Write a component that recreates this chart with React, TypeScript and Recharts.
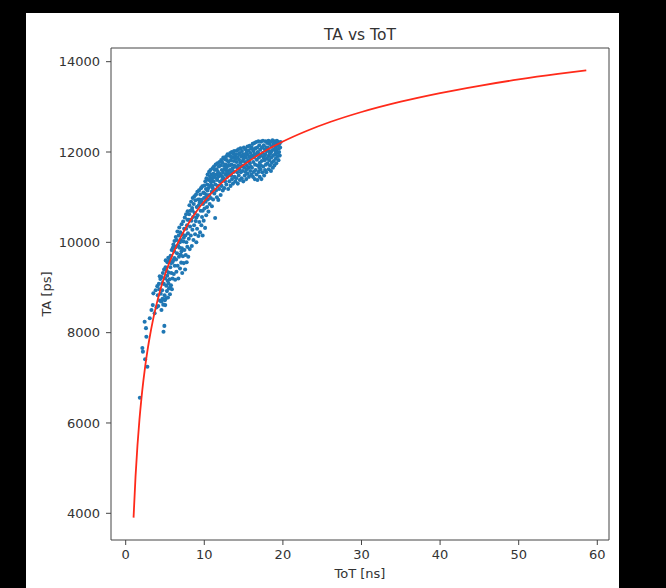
import { ComposedChart, Scatter, Line, XAxis, YAxis, ZAxis } from 'recharts'

// fitted calibration curve
const fitTot = [1, 1.25, 1.5, 1.75, 2, 2.25, 2.5, 2.75, 3, 3.5, 4, 4.5, 5, 6, 7, 8, 9, 10, 12, 14, 16, 18, 20, 23, 26, 30, 35, 40, 45, 50, 55, 58.6]
const fitTa = [3904, 4813, 5512, 6074, 6540, 6936, 7281, 7581, 7848, 8305, 8682, 9004, 9284, 9744, 10115, 10423, 10684, 10910, 11285, 11586, 11836, 12048, 12232, 12466, 12664, 12886, 13115, 13306, 13466, 13607, 13729, 13808]

// measured hits [ToT ns, TA ps]
const hits: [number, number][] = [
  [1.80, 6560], [2.12, 7660], [2.19, 7580], [2.41, 8240], [2.47, 7410], [2.58, 8100], [2.63, 7910], [2.76, 7245],
  [3.06, 8320], [3.28, 8500], [3.45, 8610], [3.68, 8430], [3.52, 8870], [3.81, 8940], [3.93, 8560], [4.02, 9030],
  [4.55, 8500], [4.81, 8020], [4.92, 8150], [5.03, 8610],
  [4.08, 8830], [4.14, 8590], [4.22, 9080], [4.27, 8960], [4.35, 8710], [4.41, 9190], [4.46, 8860], [4.53, 8690],
  [4.58, 9230], [4.64, 8940], [4.69, 8750], [4.73, 9320], [4.78, 8620], [4.86, 9080], [4.88, 9400], [4.95, 8830],
  [5.02, 9200], [5.07, 9450], [5.12, 8760], [5.16, 9040], [5.21, 9370], [5.25, 8920], [5.31, 9560], [5.34, 9150],
  [5.38, 8780], [5.42, 9660], [5.47, 9330], [5.51, 8980], [5.55, 9610], [5.59, 9180], [5.63, 8850], [5.68, 9450],
  [5.72, 9700], [5.76, 9050], [5.81, 9320], [5.85, 9830], [5.88, 8960], [5.93, 9560], [5.97, 9200], [6.00, 9880],
  [4.33, 9250], [4.67, 9100], [5.09, 9600], [5.44, 9090], [5.79, 9540], [4.98, 8720], [5.66, 9000], [5.28, 9260],
  [6.04, 9600], [6.07, 9950], [6.12, 9300], [6.16, 9800], [6.21, 10030], [6.24, 9480], [6.29, 9170], [6.33, 9890],
  [6.37, 10120], [6.41, 9620], [6.45, 9350], [6.49, 10050], [6.53, 9760], [6.58, 10240], [6.61, 9480], [6.66, 9930],
  [6.70, 9200], [6.74, 10150], [6.78, 9680], [6.82, 10330], [6.86, 9880], [6.91, 9420], [6.95, 10220], [6.98, 9730],
  [7.02, 10050], [7.06, 9550], [7.11, 10400], [7.15, 9870], [7.19, 9320], [7.23, 10180], [7.27, 9690], [7.31, 10460],
  [7.35, 10020], [7.39, 9540], [7.43, 10300], [7.47, 9830], [7.52, 10550], [7.56, 9400], [7.60, 10150], [7.64, 9720],
  [7.68, 10620], [7.72, 10000], [7.76, 9560], [7.80, 10380], [7.84, 9900], [7.88, 10690], [7.92, 10200], [7.96, 9680],
  [8.00, 10500], [6.40, 9900], [6.90, 10000], [7.40, 10100], [7.70, 10300], [6.20, 9650], [7.10, 9800], [7.85, 10500],
  [8.03, 10080], [8.07, 10620], [8.11, 10820], [8.15, 9850], [8.19, 10350], [8.24, 10700], [8.28, 10150], [8.32, 10900],
  [8.36, 10480], [8.41, 9920], [8.45, 10760], [8.49, 10280], [8.53, 10980], [8.57, 10560], [8.62, 10050], [8.66, 10850],
  [8.70, 10380], [8.74, 11020], [8.78, 10650], [8.83, 10180], [8.87, 10930], [8.91, 10470], [8.95, 11060], [8.99, 10000],
  [9.04, 10780], [9.08, 10300], [9.12, 11120], [9.16, 10600], [9.21, 10950], [9.25, 10140], [9.29, 10820], [9.33, 11150],
  [9.37, 10450], [9.42, 10880], [9.46, 10220], [9.50, 11060], [9.54, 10700], [9.58, 11200], [9.63, 10380], [9.67, 10940],
  [9.71, 10560], [9.75, 11240], [9.79, 10150], [9.84, 10850], [9.88, 11100], [9.92, 10480], [9.96, 10980], [10.00, 11260],
  [8.50, 10700], [9.00, 10550], [9.40, 10950], [9.80, 10700], [8.20, 10500], [9.60, 10900],
  [10.03, 10750], [10.06, 11080], [10.10, 10320], [10.13, 11350], [10.17, 10900], [10.21, 11180], [10.24, 10600], [10.28, 11420],
  [10.31, 11050], [10.35, 10780], [10.39, 11280], [10.42, 11500], [10.46, 10950], [10.50, 11200], [10.53, 10680], [10.57, 11380],
  [10.61, 11560], [10.64, 11050], [10.68, 10850], [10.72, 11450], [10.75, 11250], [10.79, 11600], [10.83, 10980], [10.86, 11330],
  [10.90, 11500], [10.94, 11120], [10.97, 10800], [11.01, 11420], [11.05, 11640], [11.08, 11200], [11.12, 10950], [11.16, 11520],
  [11.19, 11350], [11.23, 11680], [11.27, 11080], [11.30, 11450], [11.34, 11600], [11.38, 10540], [11.41, 11280], [11.45, 11720],
  [11.49, 11150], [11.52, 11500], [11.56, 11620], [11.60, 11000], [11.63, 11380], [11.67, 11750], [11.71, 11250], [11.74, 11560],
  [11.78, 10940], [11.82, 11460], [11.85, 11680], [11.89, 11180], [11.93, 11780], [11.96, 11520], [12.00, 11340], [10.40, 11150],
  [10.80, 11380], [11.20, 11450], [11.60, 11420], [10.20, 11000], [11.00, 11250],
  [12.04, 11700], [12.08, 11050], [12.12, 11480], [12.15, 11820], [12.19, 11250], [12.23, 11600], [12.27, 11380], [12.31, 11760],
  [12.35, 11150], [12.38, 11540], [12.42, 11880], [12.46, 11420], [12.50, 11690], [12.54, 11200], [12.58, 11620], [12.61, 11840],
  [12.65, 11350], [12.69, 11720], [12.73, 11500], [12.77, 11900], [12.81, 11280], [12.84, 11660], [12.88, 11820], [12.92, 11450],
  [12.96, 11950], [13.00, 11580], [13.04, 11180], [13.07, 11780], [13.11, 11520], [13.15, 11920], [13.19, 11350], [13.23, 11700],
  [13.27, 11600], [13.30, 11980], [13.34, 11250], [13.38, 11820], [13.42, 11480], [13.46, 11720], [13.50, 12000], [13.53, 11400],
  [13.57, 11880], [13.61, 11640], [13.65, 11300], [13.69, 11960], [13.72, 11560], [13.76, 11800], [13.80, 12020], [13.84, 11450],
  [13.88, 11900], [13.91, 11680], [13.95, 11350], [13.99, 11850], [12.30, 11450], [12.70, 11600], [13.10, 11700], [13.50, 11550],
  [13.80, 11700], [12.90, 11550], [13.40, 11900],
  [14.03, 11950], [14.07, 11420], [14.11, 11780], [14.15, 12030], [14.19, 11550], [14.23, 11880], [14.26, 11300], [14.30, 11700],
  [14.34, 12060], [14.38, 11480], [14.42, 11830], [14.46, 11620], [14.50, 11980], [14.53, 11380], [14.57, 11760], [14.61, 12080],
  [14.65, 11550], [14.69, 11900], [14.73, 11680], [14.76, 11420], [14.80, 12020], [14.84, 11800], [14.88, 11580], [14.92, 11950],
  [14.96, 11350], [15.00, 11850], [15.04, 12100], [15.07, 11650], [15.11, 11920], [15.15, 11480], [15.19, 11780], [15.23, 12060],
  [15.27, 11560], [15.30, 11880], [15.34, 11400], [15.38, 12000], [15.42, 11700], [15.46, 11950], [15.50, 12120], [15.53, 11520],
  [15.57, 11820], [15.61, 11650], [15.65, 12030], [15.69, 11450], [15.73, 11900], [15.77, 12140], [15.80, 11750], [15.84, 11580],
  [15.88, 11980], [15.92, 11680], [15.96, 12080], [16.00, 11500], [14.40, 11950], [14.90, 11700], [15.20, 11950], [15.70, 11800],
  [14.20, 11650], [15.40, 11620], [15.90, 11870],
  [16.03, 12100], [16.07, 11650], [16.11, 11920], [16.15, 12180], [16.19, 11450], [16.23, 11780], [16.27, 12020], [16.30, 11560],
  [16.34, 11880], [16.38, 12200], [16.42, 11400], [16.46, 11720], [16.50, 12080], [16.53, 11600], [16.57, 11950], [16.61, 12220],
  [16.65, 11500], [16.69, 11830], [16.73, 12100], [16.76, 11380], [16.80, 11700], [16.84, 11980], [16.88, 12240], [16.92, 11560],
  [16.96, 11880], [17.00, 12150], [17.04, 11450], [17.07, 11760], [17.11, 12050], [17.15, 11620], [17.19, 11920], [17.23, 12230],
  [17.27, 11400], [17.30, 11800], [17.34, 12100], [17.38, 11550], [17.42, 11980], [17.46, 12250], [17.50, 11680], [17.53, 11880],
  [17.57, 12150], [17.61, 11480], [17.65, 11820], [17.69, 12060], [17.73, 11600], [17.76, 11950], [17.80, 12240], [17.84, 11720],
  [17.88, 11550], [17.92, 12020], [17.96, 11850], [18.00, 12200], [16.40, 11950], [16.80, 12000], [17.20, 11700], [17.60, 11900],
  [17.90, 12100], [16.20, 12050], [17.00, 11650],
  [18.04, 11750], [18.08, 12100], [18.12, 11900], [18.16, 12250], [18.20, 11620], [18.24, 12020], [18.28, 11820], [18.32, 12180],
  [18.36, 11700], [18.40, 11980], [18.44, 12230], [18.48, 11580], [18.52, 11880], [18.56, 12120], [18.60, 11760], [18.64, 12040],
  [18.68, 12260], [18.72, 11650], [18.76, 11920], [18.80, 12180], [18.84, 11800], [18.88, 12060], [18.92, 11700], [18.96, 12240],
  [19.00, 11950], [19.04, 12120], [19.08, 11850], [19.12, 12200], [19.16, 11750], [19.20, 12050], [19.24, 12250], [19.28, 11900],
  [19.32, 12150], [19.36, 11980], [19.40, 12220], [19.44, 11820], [19.48, 12080], [19.52, 12000], [19.56, 12180], [19.60, 11920],
  [19.65, 12100], [19.70, 12220], [18.50, 12000], [19.10, 12000], [18.30, 11950],
]

const totTicks = [0, 10, 20, 30, 40, 50, 60]
const taTicks = [4000, 6000, 8000, 10000, 12000, 14000]

const fitData = fitTot.map((tot, i) => ({ tot, ta: fitTa[i] }))
const hitData = hits.map(([tot, ta]) => ({ tot, ta }))

const X_DOMAIN: [number, number] = [-1.87, 61.49]
const Y_DOMAIN: [number, number] = [3409, 14303]
const INK = '#333'
const FRAME = '#444'
const tickFont = { fontSize: 13, fill: INK }

export default function App() {
  return (
    <div style={{ position: 'absolute', left: 0, top: 0, width: 666, height: 588, background: '#000' }}>
      <div style={{ position: 'absolute', left: 26, top: 13, width: 593, height: 575, background: '#fff' }} />
      <div style={{ position: 'absolute', left: 0, top: 0 }}>
        <ComposedChart
          width={666}
          height={588}
          margin={{ top: 47, right: 56, bottom: 0, left: 0 }}
          style={{ fontFamily: 'DejaVu Sans' }}
        >
          <text x={360} y={40} textAnchor="middle" fontSize={15.5} fill={INK}>
            TA vs ToT
          </text>
          <XAxis
            dataKey="tot"
            type="number"
            domain={X_DOMAIN}
            ticks={totTicks}
            allowDataOverflow
            height={48}
            tickSize={5}
            tickMargin={5}
            tick={tickFont}
            stroke={FRAME}
            label={{ value: 'ToT [ns]', position: 'insideBottom', offset: 10, fontSize: 13, fill: INK }}
          />
          <XAxis
            xAxisId="top"
            orientation="top"
            type="number"
            domain={X_DOMAIN}
            allowDataOverflow
            height={1}
            tick={false}
            tickLine={false}
            stroke={FRAME}
          />
          <YAxis
            dataKey="ta"
            type="number"
            domain={Y_DOMAIN}
            ticks={taTicks}
            allowDataOverflow
            width={111}
            tickSize={5}
            tickMargin={6}
            tick={tickFont}
            stroke={FRAME}
            label={{ value: 'TA [ps]', angle: -90, position: 'insideLeft', offset: 46, fontSize: 13, fill: INK, style: { textAnchor: 'middle' } }}
          />
          <YAxis
            yAxisId="right"
            orientation="right"
            type="number"
            domain={Y_DOMAIN}
            allowDataOverflow
            width={1}
            tick={false}
            tickLine={false}
            stroke={FRAME}
          />
          <ZAxis range={[13, 13]} />
          <Scatter data={hitData} fill="#1f77b4" isAnimationActive={false} zIndex={500} />
          <Line
            data={fitData}
            dataKey="ta"
            type="monotone"
            stroke="#ff2a1a"
            strokeWidth={1.8}
            dot={false}
            activeDot={false}
            isAnimationActive={false}
            zIndex={700}
          />
        </ComposedChart>
      </div>
    </div>
  )
}
